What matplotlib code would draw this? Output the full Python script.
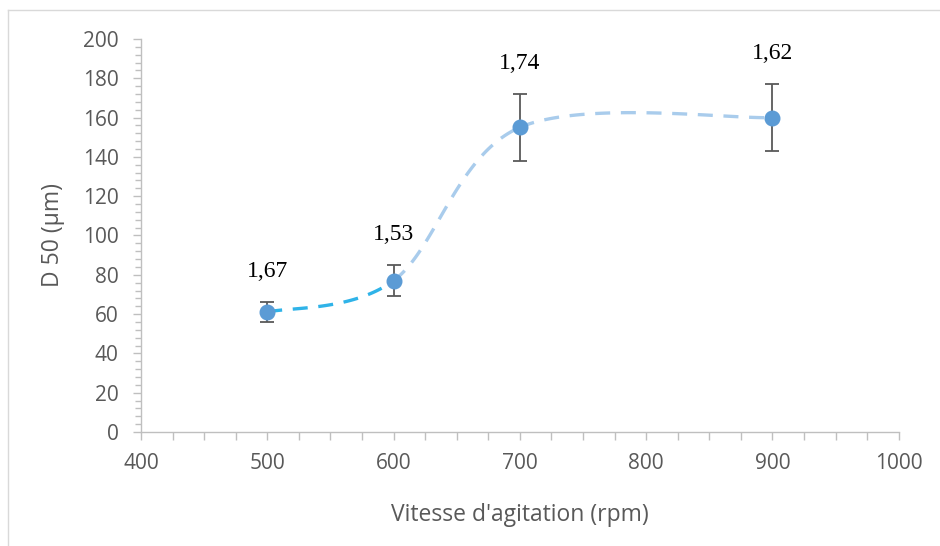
import numpy as np
import matplotlib
matplotlib.use("Agg")
import matplotlib.pyplot as plt
from matplotlib.ticker import MultipleLocator
from matplotlib.lines import Line2D

# Data
speed = [500, 600, 700, 900]
d50 = [61, 77, 155, 160]
err = [5, 8, 17, 17]
labels = ["1,67", "1,53", "1,74", "1,62"]

def smooth_segment(i, xs, ys, n=60):
    # Excel-like smoothed line (Catmull-Rom via cubic Bezier) between point i and i+1
    P = np.column_stack([xs, ys]).astype(float)
    p0 = P[max(i - 1, 0)]
    p1 = P[i]
    p2 = P[i + 1]
    p3 = P[min(i + 2, len(P) - 1)]
    c1 = p1 + (p2 - p0) / 6.0
    c2 = p2 - (p3 - p1) / 6.0
    t = np.linspace(0, 1, n)[:, None]
    pts = ((1 - t) ** 3) * p1 + 3 * ((1 - t) ** 2) * t * c1 + 3 * (1 - t) * t ** 2 * c2 + t ** 3 * p2
    return pts[:, 0], pts[:, 1]

fig = plt.figure(figsize=(9.4, 5.46), dpi=100)
ax = fig.add_axes([0.150, 0.2088, 0.806, 0.7198])

gray_txt = "#595959"
axis_col = "#BFBFBF"

# smooth dashed curve: first segment brighter
for i in range(len(speed) - 1):
    sx, sy = smooth_segment(i, speed, d50)
    col = "#2FB3E8" if i == 0 else "#A9CCEC"
    ax.plot(sx, sy, color=col, lw=2.4, dashes=(4.5, 3.2), solid_capstyle="butt",
            dash_capstyle="butt", zorder=2)

ax.errorbar(speed, d50, yerr=err, fmt="none", ecolor="#595959", elinewidth=1.3,
            capsize=5, capthick=1.3, zorder=3)
ax.plot(speed, d50, "o", color="#5B9BD5", markersize=10.5, zorder=4)

for x, y, e, lab in zip(speed, d50, err, labels):
    ax.annotate(lab, (x, y + e), xytext=(0, 22), textcoords="offset points",
                ha="center", va="center", fontsize=17, family="Liberation Serif",
                color="black")

ax.set_xlim(400, 1000)
ax.set_ylim(0, 200)
ax.xaxis.set_major_locator(MultipleLocator(100))
ax.xaxis.set_minor_locator(MultipleLocator(25))
ax.yaxis.set_major_locator(MultipleLocator(20))
ax.yaxis.set_minor_locator(MultipleLocator(4))

for s in ["top", "right"]:
    ax.spines[s].set_visible(False)
for s in ["left", "bottom"]:
    ax.spines[s].set_color(axis_col)
    ax.spines[s].set_linewidth(1.0)

ax.tick_params(axis="both", which="major", length=6, color=axis_col, width=1.0,
               labelsize=15, labelcolor=gray_txt)
ax.tick_params(axis="x", which="minor", length=6, color=axis_col, width=1.0)
ax.tick_params(axis="y", which="minor", length=4, color=axis_col, width=1.0)
ax.tick_params(axis="y", which="major", pad=10)
ax.tick_params(axis="x", which="major", pad=9)
for lab in ax.get_xticklabels() + ax.get_yticklabels():
    lab.set_family("Open Sans")

ax.set_xlabel("Vitesse d'agitation (rpm)", fontsize=16.5, color=gray_txt,
              family="Open Sans", labelpad=21)
ax.set_ylabel("D 50 (µm)", fontsize=16.5, color=gray_txt, family="Open Sans",
              labelpad=13)

# outer chart border (top and left)
fig.add_artist(Line2D([8 / 940, 8 / 940], [0, 1 - 10 / 546], transform=fig.transFigure,
                      color="#D9D9D9", lw=1.0))
fig.add_artist(Line2D([8 / 940, 1], [1 - 10 / 546, 1 - 10 / 546], transform=fig.transFigure,
                      color="#D9D9D9", lw=1.0))

fig.savefig("out.png", dpi=100)
